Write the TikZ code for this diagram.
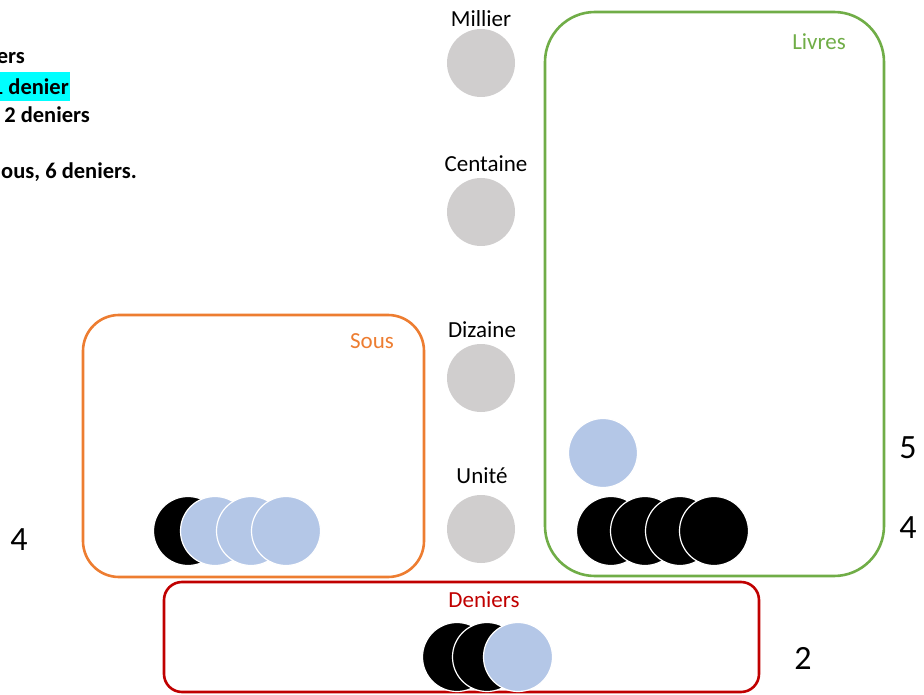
\documentclass[tikz,border=0pt]{standalone}
\usepackage{fontspec}
\setmainfont{Carlito}
\definecolor{grayc}{HTML}{D0CECE}
\definecolor{bluec}{HTML}{B4C7E7}
\definecolor{greenc}{HTML}{70AD47}
\definecolor{orangec}{HTML}{ED7D31}
\definecolor{redc}{HTML}{C00000}
\definecolor{cyanc}{HTML}{00FFFF}
\begin{document}
\begin{tikzpicture}[x=1pt,y=-1pt,
  lab/.style={font=\fontsize{23}{27}\selectfont, inner sep=0pt},
  num/.style={font=\fontsize{34}{40}\selectfont, inner sep=0pt},
  note/.style={font=\fontsize{22.5}{26}\selectfont\bfseries, inner sep=0pt, anchor=east},
  place/.style={circle, fill=grayc, minimum size=68pt, inner sep=0pt},
  blk/.style={circle, fill=black, draw=white, line width=1.2pt, minimum size=69pt, inner sep=0pt},
  blu/.style={circle, fill=bluec, draw=white, line width=1.2pt, minimum size=69pt, inner sep=0pt},
  grp/.style={rounded corners=#1, line width=2.6pt}]
\useasboundingbox (0,0) rectangle (924,695);
% notes (clipped at left, as in the reference)
\node[note] (n1) at (25,58) {ers};
\node[note, fill=cyanc, inner xsep=1pt, minimum height=29pt] (n2) at (70,86.5) {1 denier};
\node[note] (n3) at (90,115) {2 deniers};
\node[note] (n4) at (137,172) {ous, 6 deniers.};
% place values
\node[place] (pm) at (481,63) {};
\node[place] (pc) at (481,212) {};
\node[place] (pd) at (481,378) {};
\node[place] (pu) at (481,529) {};
\node[lab] (lm) at (481,19) {Millier};
\node[lab] (lc) at (486,164) {Centaine};
\node[lab] (ld) at (482,330) {Dizaine};
\node[lab] (lu) at (482,476) {Unité};
% groups
\draw[grp=50pt, greenc] (545,12) rectangle (884,576);
\node[lab, text=greenc] (livres) at (819,42) {Livres};
\draw[grp=36pt, orangec] (83,315) rectangle (424,577);
\node[lab, text=orangec] (sous) at (372,341) {Sous};
\draw[grp=18pt, redc] (164,582) rectangle (759,692);
\node[lab, text=redc] (deniers) at (484,600) {Deniers};
% sous tokens
\node[blk] (s1) at (188,531) {};
\node[blu] (s2) at (215,531) {};
\node[blu] (s3) at (251,531) {};
\node[blu] (s4) at (286,531) {};
% livres tokens
\node[blu] (l0) at (603,453) {};
\node[blk] (l1) at (611,531) {};
\node[blk] (l2) at (645,531) {};
\node[blk] (l3) at (680,531) {};
\node[blk] (l4) at (714,531) {};
% deniers tokens
\node[blk] (d1) at (457,657) {};
\node[blk] (d2) at (487,657) {};
\node[blu] (d3) at (518,657) {};
% numbers
\node[num] (k1) at (19,540) {4};
\node[num] (k2) at (908,448) {5};
\node[num] (k3) at (908,528) {4};
\node[num] (k4) at (803,658) {2};
\end{tikzpicture}
\end{document}
